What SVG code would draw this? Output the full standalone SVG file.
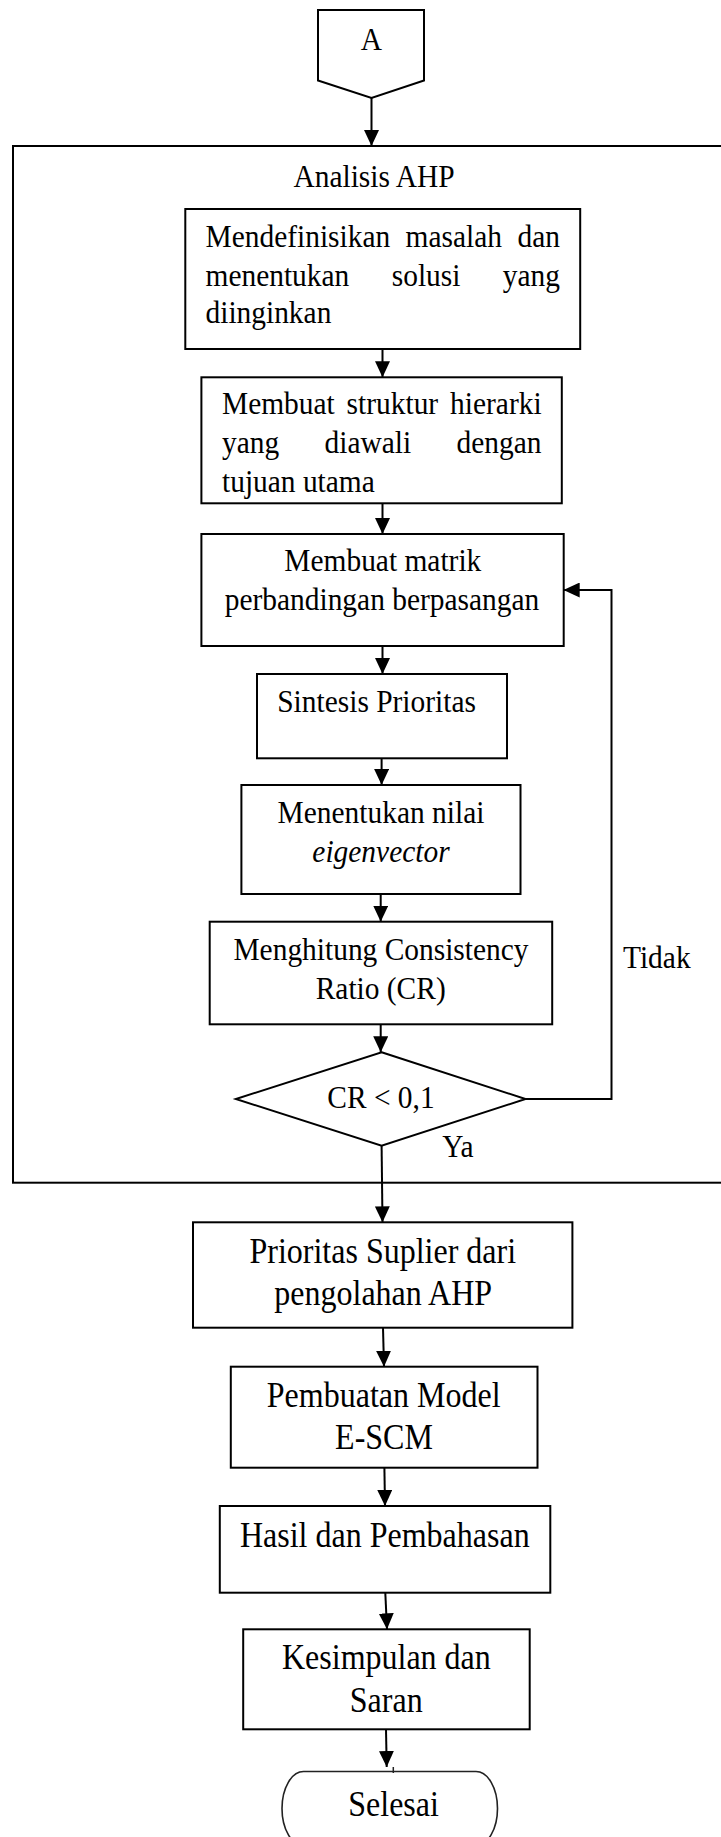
<svg xmlns="http://www.w3.org/2000/svg" width="721" height="1837" viewBox="0 0 721 1837">
  <style>
    .box { fill: #ffffff; stroke: #000000; stroke-width: 2; }
    .frame { fill: none; stroke: #000000; stroke-width: 2; }
    .term { fill: #ffffff; stroke: #222222; stroke-width: 1.6; }
    .t { font-family: "Liberation Serif", "Times New Roman", serif; font-size: 32px; fill: #000000; }
    .big { font-size: 34.8px; }
    .c { text-anchor: middle; }
    .e { text-anchor: end; }
    .it { font-style: italic; }
    .edge { fill: none; stroke: #000000; stroke-width: 2; }
  </style>
  <defs>
    <marker id="arrow" viewBox="0 0 16 15" refX="16" refY="7.5" markerWidth="16" markerHeight="15" markerUnits="userSpaceOnUse" orient="auto">
      <path d="M0,0 L16,7.5 L0,15 Z" fill="#000000"/>
    </marker>
  </defs>

  <rect width="721" height="1837" fill="#ffffff"/>

  <!-- AHP analysis frame (runs past the right edge) -->
  <g id="frame-ahp">
    <rect class="frame" x="13" y="146" width="730" height="1036.7"/>
    <text class="t c" x="374" y="187.3" transform="matrix(0.92 0 0 1 29.92 0)">Analisis AHP</text>
  </g>

  <!-- off-page connector -->
  <g id="node-a">
    <polygon class="box" points="318,10 424,10 424,80.5 371.5,98 318,80.5"/>
    <text class="t c" x="371.5" y="50" transform="matrix(0.92 0 0 1 29.72 0)">A</text>
  </g>

  <g id="node-define">
    <rect class="box" x="185.3" y="209" width="394.9" height="140"/>
    <text class="t" x="205.5" y="246.7" transform="matrix(0.92 0 0 1 16.44 0)">Mendefinisikan</text>
    <text class="t" x="405.6" y="246.7" transform="matrix(0.92 0 0 1 32.45 0)">masalah</text>
    <text class="t e" x="560" y="246.7" transform="matrix(0.92 0 0 1 44.8 0)">dan</text>
    <text class="t" x="205.5" y="285.7" transform="matrix(0.92 0 0 1 16.44 0)">menentukan</text>
    <text class="t" x="391.75" y="285.7" transform="matrix(0.92 0 0 1 31.34 0)">solusi</text>
    <text class="t e" x="560" y="285.7" transform="matrix(0.92 0 0 1 44.8 0)">yang</text>
    <text class="t" x="205.5" y="323.3" transform="matrix(0.92 0 0 1 16.44 0)">diinginkan</text>
  </g>

  <g id="node-hierarchy">
    <rect class="box" x="201.4" y="377.3" width="360.4" height="126"/>
    <text class="t" x="222" y="414.3" transform="matrix(0.92 0 0 1 17.76 0)">Membuat</text>
    <text class="t" x="346.6" y="414.3" transform="matrix(0.92 0 0 1 27.73 0)">struktur</text>
    <text class="t e" x="541.6" y="414.3" transform="matrix(0.92 0 0 1 43.33 0)">hierarki</text>
    <text class="t" x="222" y="453.3" transform="matrix(0.92 0 0 1 17.76 0)">yang</text>
    <text class="t" x="324.55" y="453.3" transform="matrix(0.92 0 0 1 25.96 0)">diawali</text>
    <text class="t e" x="541.6" y="453.3" transform="matrix(0.92 0 0 1 43.33 0)">dengan</text>
    <text class="t" x="222" y="491.7" transform="matrix(0.92 0 0 1 17.76 0)">tujuan utama</text>
  </g>

  <g id="node-matrix">
    <rect class="box" x="201.4" y="534" width="362.3" height="112"/>
    <text class="t c" x="382.8" y="571" transform="matrix(0.92 0 0 1 30.62 0)">Membuat matrik</text>
    <text class="t c" x="382" y="610" transform="matrix(0.92 0 0 1 30.56 0)">perbandingan berpasangan</text>
  </g>

  <g id="node-synthesis">
    <rect class="box" x="257" y="674" width="250" height="84.3"/>
    <text class="t c" x="376.6" y="711.7" transform="matrix(0.92 0 0 1 30.13 0)">Sintesis Prioritas</text>
  </g>

  <g id="node-eigen">
    <rect class="box" x="241.4" y="785" width="279.1" height="109"/>
    <text class="t c" x="381" y="823.3" transform="matrix(0.92 0 0 1 30.48 0)">Menentukan nilai</text>
    <text class="t c it" x="381" y="861.7" transform="matrix(0.92 0 0 1 30.48 0)">eigenvector</text>
  </g>

  <g id="node-cr">
    <rect class="box" x="209.7" y="921.7" width="342.5" height="102.6"/>
    <text class="t c" x="381" y="960" transform="matrix(0.92 0 0 1 30.48 0)">Menghitung Consistency</text>
    <text class="t c" x="380.7" y="999" transform="matrix(0.92 0 0 1 30.46 0)">Ratio (CR)</text>
  </g>

  <g id="node-decision">
    <polygon class="box" points="381.6,1052.3 525.5,1099 381.6,1145.7 235.9,1099"/>
    <text class="t c" x="381" y="1108.3" transform="matrix(0.92 0 0 1 30.48 0)">CR &lt; 0,1</text>
  </g>

  <g id="node-priority">
    <rect class="box" x="193" y="1222.3" width="379.4" height="105.4"/>
    <text class="t big c" x="382.8" y="1262.7" transform="matrix(0.92 0 0 1 30.62 0)">Prioritas Suplier dari</text>
    <text class="t big c" x="383.2" y="1305" transform="matrix(0.92 0 0 1 30.66 0)">pengolahan AHP</text>
  </g>

  <g id="node-model">
    <rect class="box" x="230.8" y="1366.7" width="306.7" height="101"/>
    <text class="t big c" x="383.7" y="1406.7" transform="matrix(0.92 0 0 1 30.7 0)">Pembuatan Model</text>
    <text class="t big c" x="384" y="1449.3" transform="matrix(0.92 0 0 1 30.72 0)">E-SCM</text>
  </g>

  <g id="node-results">
    <rect class="box" x="219.8" y="1506" width="330.5" height="86.7"/>
    <text class="t big c" x="384.8" y="1546.7" transform="matrix(0.92 0 0 1 30.78 0)">Hasil dan Pembahasan</text>
  </g>

  <g id="node-conclusion">
    <rect class="box" x="243.2" y="1629.3" width="286.5" height="100"/>
    <text class="t big c" x="386.4" y="1669.3" transform="matrix(0.92 0 0 1 30.91 0)">Kesimpulan dan</text>
    <text class="t big c" x="386.2" y="1711.7" transform="matrix(0.92 0 0 1 30.9 0)">Saran</text>
  </g>

  <g id="node-end">
    <path class="term" d="M303.5,1771.5 H476 A21.5,37 0 0 1 476,1845.5 H303.5 A21.5,37 0 0 1 303.5,1771.5 Z"/>
    <path d="M393.3,1767 V1773" stroke="#222222" stroke-width="1.5"/>
    <text class="t big c" x="393.6" y="1816" transform="matrix(0.92 0 0 1 31.49 0)">Selesai</text>
  </g>

  <!-- connectors -->
  <g id="connectors">
    <path class="edge" marker-end="url(#arrow)" d="M371.5,98 V146"/>
    <path class="edge" marker-end="url(#arrow)" d="M382.5,349 V377.3"/>
    <path class="edge" marker-end="url(#arrow)" d="M382.5,503.3 V534"/>
    <path class="edge" marker-end="url(#arrow)" d="M382.5,646 V674"/>
    <path class="edge" marker-end="url(#arrow)" d="M381.6,758.3 V785"/>
    <path class="edge" marker-end="url(#arrow)" d="M380.7,894 V921.7"/>
    <path class="edge" marker-end="url(#arrow)" d="M380.7,1024.3 V1052.3"/>
    <path class="edge" marker-end="url(#arrow)" d="M525.5,1099 H611.5 V590 H563.7"/>
    <path class="edge" marker-end="url(#arrow)" d="M381.6,1145.7 L382.5,1222.3"/>
    <path class="edge" marker-end="url(#arrow)" d="M383,1327.7 L384,1366.7"/>
    <path class="edge" marker-end="url(#arrow)" d="M384.4,1467.7 L385,1506"/>
    <path class="edge" marker-end="url(#arrow)" d="M385.3,1592.7 L387,1629.3"/>
    <path class="edge" marker-end="url(#arrow)" d="M386,1729.3 L386.7,1767"/>
    <text class="t" x="623" y="968.3" transform="matrix(0.92 0 0 1 49.84 0)">Tidak</text>
    <text class="t" x="442.3" y="1156.7" transform="matrix(0.92 0 0 1 35.38 0)">Ya</text>
  </g>
</svg>
